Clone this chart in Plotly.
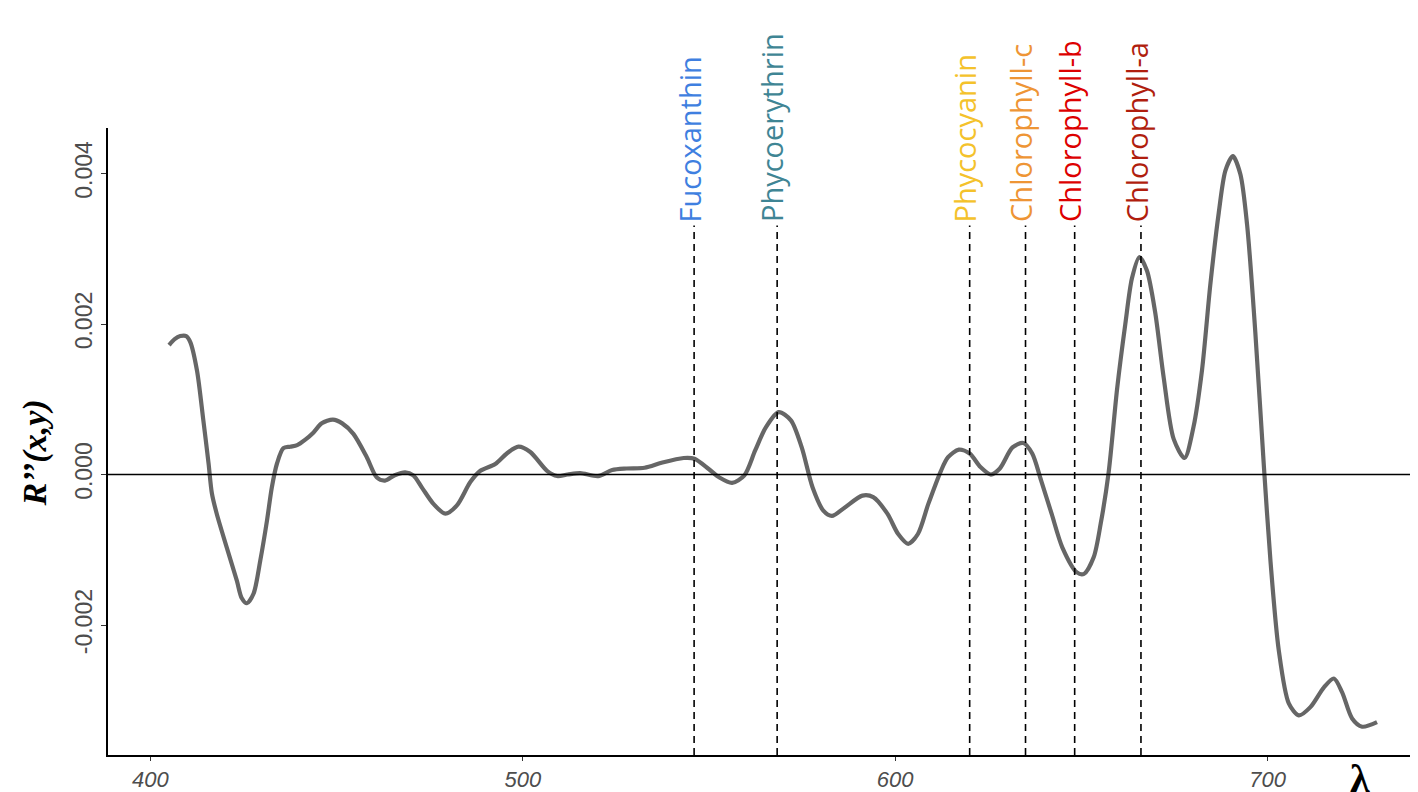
import plotly.graph_objects as go

# Wavelength (nm) and second-derivative reflectance values
wavelength = [405.0, 406.5, 408.0, 409.6, 410.7, 412.5, 414.2, 415.6, 416.5, 417.8,
              420.5, 423.2, 424.5, 425.9, 427.7, 429.5, 431.3, 432.6, 434.0, 435.7,
              437.5, 439.4, 441.5, 443.8, 446.0, 449.0, 451.5, 454.5, 458.1, 460.8,
              463.0, 465.6, 468.4, 470.6, 473.0, 476.0, 479.2, 482.3, 485.9, 488.6,
              492.6, 495.7, 498.8, 502.0, 506.5, 509.2, 512.0, 515.4, 520.2, 524.0,
              527.9, 532.7, 537.5, 543.2, 546.1, 550.0, 552.8, 556.2, 559.5, 562.4,
              565.3, 568.7, 572.0, 574.9, 577.8, 580.7, 583.0, 586.4, 591.2, 594.1,
              597.9, 600.8, 603.5, 606.1, 608.9, 612.3, 614.2, 617.1, 620.0, 622.9,
              625.7, 628.1, 631.5, 634.4, 636.8, 639.2, 642.0, 644.9, 648.8, 650.7,
              653.3, 655.2, 657.3, 659.6, 661.8, 663.6, 665.6, 667.6, 669.8, 672.1,
              674.8, 677.7, 680.1, 682.4, 684.6, 686.9, 688.7, 690.7, 692.7, 694.5,
              696.7, 699.0, 700.8, 703.0, 705.7, 708.4, 711.5, 715.1, 717.8, 720.0,
              722.7, 725.4, 729.4]
r2 = [0.00172, 0.00180, 0.00184, 0.00184, 0.00176, 0.00138, 0.00072, 0.00015, -0.00025, -0.00052,
      -0.00097, -0.00141, -0.00164, -0.00171, -0.00158, -0.00114, -0.00061, -0.00017, 0.00015, 0.00035,
      0.00037, 0.00039, 0.00046, 0.00056, 0.00068, 0.00073, 0.00068, 0.00054, 0.00023, -0.00004,
      -0.00008, -0.00001, 0.00003, -0.00001, -0.00018, -0.00039, -0.00052, -0.00041, -0.00010, 0.00005,
      0.00014, 0.00028, 0.00037, 0.00030, 0.00005, -0.00002, 0.00000, 0.00002, -0.00002, 0.00006,
      0.00008, 0.00009, 0.00016, 0.00022, 0.00021, 0.00007, -0.00004, -0.00011, -0.00001, 0.00032,
      0.00063, 0.00083, 0.00072, 0.00036, -0.00017, -0.00048, -0.00055, -0.00044, -0.00028, -0.00030,
      -0.00052, -0.00079, -0.00092, -0.00079, -0.00039, 0.00005, 0.00023, 0.00033, 0.00028, 0.00010,
      0.00000, 0.00008, 0.00036, 0.00042, 0.00028, -0.00008, -0.00052, -0.00097, -0.00130, -0.00132,
      -0.00110, -0.00065, 0.00002, 0.00114, 0.00200, 0.00261, 0.00289, 0.00271, 0.00216, 0.00129,
      0.00047, 0.00022, 0.00063, 0.00139, 0.00251, 0.00348, 0.00404, 0.00423, 0.00399, 0.00332,
      0.00190, 0.00012, -0.00116, -0.00233, -0.00304, -0.00320, -0.00309, -0.00283, -0.00271, -0.00289,
      -0.00324, -0.00335, -0.00329]

# Pigment markers
pigments = ["Fucoxanthin", "Phycoerythrin", "Phycocyanin", "Chlorophyll-c", "Chlorophyll-b", "Chlorophyll-a"]
pigment_wl = [546, 568.3, 620, 635, 648.2, 666]
pigment_colors = ["#3F7FE0", "#3F8594", "#F4C22B", "#EE9535", "#DD0000", "#B01E0E"]

y_ticks = [-0.002, 0.0, 0.002, 0.004]
y_ticklabels = ["-0.002", "0.000", "0.002", "0.004"]
x_ticks = [400, 500, 600, 700]

y_range = [-0.003726, 0.004604]
x_range = [388.6, 740.4]
line_top = 0.00331

fig = go.Figure()

fig.add_trace(go.Scatter(
    x=wavelength, y=r2, mode="lines",
    line=dict(color="#666666", width=4.2, shape="spline", smoothing=0.8),
    showlegend=False, hoverinfo="skip"))

# zero line
fig.add_shape(type="line", xref="paper", yref="y", x0=0, x1=1, y0=0, y1=0,
              line=dict(color="black", width=1.5))

for name, wl, col in zip(pigments, pigment_wl, pigment_colors):
    fig.add_shape(type="line", xref="x", yref="y", x0=wl, x1=wl,
                  y0=y_range[0], y1=line_top,
                  line=dict(color="black", width=1.6, dash="7px,5px"))
    fig.add_annotation(x=wl, y=line_top, xref="x", yref="y", text=name,
                       textangle=-90, showarrow=False, xanchor="center", yanchor="bottom",
                       xshift=-5, yshift=1,
                       font=dict(family="Open Sans, Lato, sans-serif", size=29, color=col))

# y-axis title
fig.add_annotation(x=-0.0557, y=0.481, xref="paper", yref="paper",
                   text="<b><i>R’’(x,y)</i></b>", textangle=-90, showarrow=False,
                   xanchor="center", yanchor="middle",
                   font=dict(family="Liberation Serif, Times New Roman, serif", size=34, color="black"))
# x-axis title (lambda, partly cut off at the page bottom as in the original)
fig.add_annotation(x=724.9, y=0.002, xref="x", yref="paper", text="<b>λ</b>",
                   showarrow=False, xanchor="center", yanchor="top",
                   font=dict(family="Liberation Serif, Times New Roman, serif", size=40, color="black"))

# The page places the figure 8px from the top-left corner
fig.update_layout(
    width=1410, height=784,
    margin=dict(l=100, r=0, t=120, b=30),
    paper_bgcolor="white", plot_bgcolor="white",
    showlegend=False,
    xaxis=dict(range=x_range, tickvals=x_ticks, showgrid=False, zeroline=False,
               showline=True, linecolor="black", linewidth=2,
               ticks="outside", ticklen=4, tickcolor="#333333", tickwidth=1.2,
               tickfont=dict(family="Liberation Sans, Arial, sans-serif", size=22,
                             color="#4D4D4D", style="italic")),
    yaxis=dict(range=y_range, tickvals=y_ticks, ticktext=y_ticklabels, tickangle=-90,
               showgrid=False, zeroline=False,
               showline=True, linecolor="black", linewidth=2,
               ticks="outside", ticklen=5, tickcolor="#333333", tickwidth=1.2,
               tickfont=dict(family="Liberation Sans, Arial, sans-serif", size=23,
                             color="#4D4D4D")),
)

fig.write_html("out.html")
